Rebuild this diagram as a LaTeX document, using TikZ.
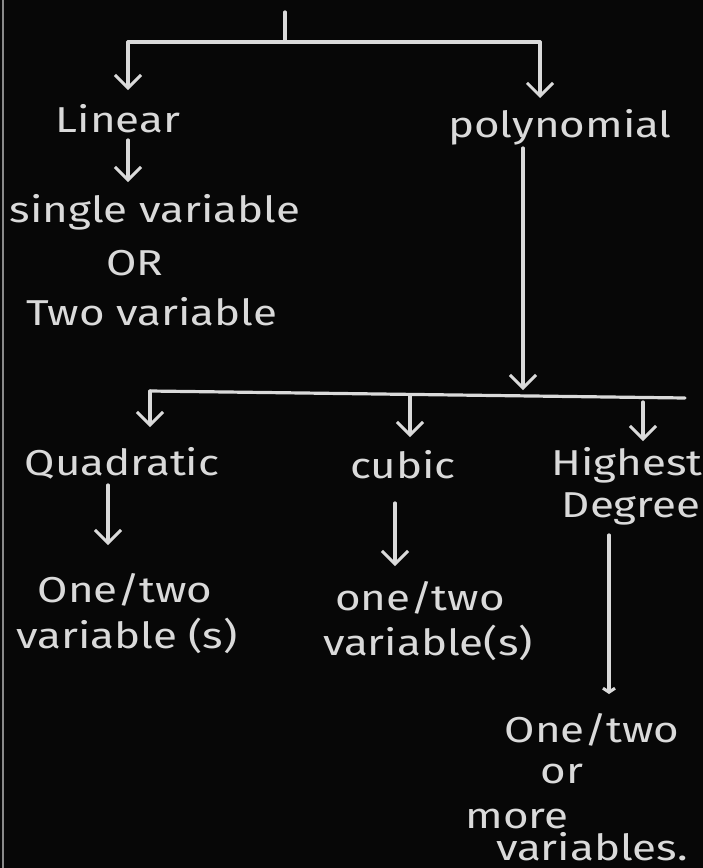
\documentclass[tikz,border=0pt]{standalone}
\usepackage{fontspec}
\setmainfont{Fira Sans}[FakeStretch=1.22]
\usetikzlibrary{arrows.meta}
\definecolor{chalk}{HTML}{DADADA}
\definecolor{board}{HTML}{070707}
\definecolor{edge}{HTML}{8A8A8A}
\begin{document}
\begin{tikzpicture}[x=1pt,y=-1pt,
  chalktext/.style={text=chalk, font=\fontsize{36}{45}\selectfont, inner sep=0pt, anchor=base},
  line/.style={draw=chalk, line width=3.2pt, line cap=round},
  arr/.style={line, -{Straight Barb[length=13pt,width=26pt,line width=3pt]}},
]
\fill[board] (0,0) rectangle (703,868);
\useasboundingbox (0,0) rectangle (703,868);
\draw[edge, line width=1.2pt] (3,0) -- (3,868);

% top level
\coordinate (top) at (285,12);
\coordinate (J) at (285,42);
\coordinate (L1) at (128,42);
\coordinate (R1) at (540,42);
\coordinate (Ltip) at (128,90);
\coordinate (Rtip) at (540,98);
\draw[line] (top) -- (J);
\draw[line] (L1) -- (R1);
\draw[arr] (L1) -- (Ltip);
\draw[arr] (R1) -- (Rtip);

\node[chalktext] (linear) at (118,132) {Linear};
\node[chalktext] (poly) at (560,137) {polynomial};

\coordinate (lin2) at (128,140);
\coordinate (lin2tip) at (128,182);
\draw[arr] (lin2) -- (lin2tip);

\node[chalktext] (single) at (155,222) {single variable};
\node[chalktext] (orA) at (135,275) {OR};
\node[chalktext] (two) at (152,325) {Two variable};

% polynomial branch
\coordinate (P1) at (523,148);
\coordinate (P2) at (523,390);
\draw[arr] (P1) -- (P2);
\coordinate (B1) at (150,391);
\coordinate (B2) at (685,398);
\draw[line] (B1) -- (B2);
\coordinate (Bc) at (410,395);
\coordinate (Bh) at (643,402);
\coordinate (qtip) at (150,427);
\coordinate (ctip) at (410,437);
\coordinate (htip) at (643,441);
\draw[arr] (B1) -- (qtip);
\draw[arr] (Bc) -- (ctip);
\draw[arr] (Bh) -- (htip);

\node[chalktext] (quad) at (122,475) {Quadratic};
\node[chalktext] (cubic) at (403,478) {cubic};
\node[chalktext] (high) at (627,475) {Highest};
\node[chalktext] (deg) at (631,517) {Degree};

\coordinate (qa) at (108,485);
\coordinate (qb) at (108,545);
\draw[arr] (qa) -- (qb);
\coordinate (ca) at (395,503);
\coordinate (cb) at (395,566);
\draw[arr] (ca) -- (cb);
\coordinate (ha) at (609,535);
\coordinate (hb) at (609,694);
\draw[line, -{Straight Barb[length=4pt,width=12pt,line width=3pt]}] (ha) -- (hb);

\node[chalktext] (q1) at (125,602) {One/two};
\node[chalktext] (q2) at (127,648) {variable (s)};
\node[chalktext] (c1) at (420,610) {one/two};
\node[chalktext] (c2) at (428,655) {variable(s)};

\node[chalktext] (h1) at (592,742) {One/two};
\node[chalktext] (h2) at (562,783) {or};
\node[chalktext] (h3) at (517,828) {more};
\node[chalktext] (h4) at (592,860) {variables.};
\end{tikzpicture}
\end{document}
